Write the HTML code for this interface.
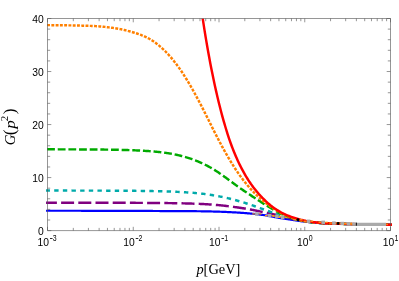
<!DOCTYPE html>
<html><head><meta charset="utf-8"><title>G(p^2)</title>
<style>html,body{margin:0;padding:0;background:#fff}svg{display:block;will-change:transform}</style></head>
<body>
<svg width="399" height="281" viewBox="0 0 399 281">
<rect width="399" height="281" fill="#fff"/>
<defs><clipPath id="c"><rect x="45.55" y="18.5" width="346.9" height="212.1"/></clipPath></defs>
<g clip-path="url(#c)" fill="none" stroke-width="2.45" stroke-linecap="butt" stroke-linejoin="round">
<path d="M46.05,210.76 L46.88,210.76 L47.70,210.76 L48.53,210.76 L49.35,210.76 L50.18,210.76 L51.00,210.76 L51.83,210.76 L52.65,210.76 L53.48,210.76 L54.31,210.76 L55.13,210.76 L55.96,210.76 L56.78,210.76 L57.61,210.76 L58.43,210.76 L59.26,210.76 L60.08,210.76 L60.91,210.76 L61.74,210.76 L62.56,210.76 L63.39,210.76 L64.21,210.76 L65.04,210.77 L65.86,210.77 L66.69,210.77 L67.51,210.77 L68.34,210.77 L69.17,210.77 L69.99,210.77 L70.82,210.77 L71.64,210.77 L72.47,210.77 L73.29,210.77 L74.12,210.77 L74.94,210.77 L75.77,210.77 L76.59,210.77 L77.42,210.77 L78.25,210.77 L79.07,210.77 L79.90,210.77 L80.72,210.77 L81.55,210.78 L82.37,210.78 L83.20,210.78 L84.02,210.78 L84.85,210.78 L85.68,210.78 L86.50,210.78 L87.33,210.78 L88.15,210.78 L88.98,210.78 L89.80,210.78 L90.63,210.78 L91.45,210.78 L92.28,210.79 L93.11,210.79 L93.93,210.79 L94.76,210.79 L95.58,210.79 L96.41,210.79 L97.23,210.79 L98.06,210.79 L98.88,210.79 L99.71,210.79 L100.54,210.80 L101.36,210.80 L102.19,210.80 L103.01,210.80 L103.84,210.80 L104.66,210.80 L105.49,210.80 L106.31,210.80 L107.14,210.81 L107.97,210.81 L108.79,210.81 L109.62,210.81 L110.44,210.81 L111.27,210.81 L112.09,210.81 L112.92,210.82 L113.74,210.82 L114.57,210.82 L115.40,210.82 L116.22,210.82 L117.05,210.82 L117.87,210.83 L118.70,210.83 L119.52,210.83 L120.35,210.83 L121.17,210.83 L122.00,210.84 L122.82,210.84 L123.65,210.84 L124.48,210.84 L125.30,210.85 L126.13,210.85 L126.95,210.85 L127.78,210.85 L128.60,210.86 L129.43,210.86 L130.25,210.86 L131.08,210.86 L131.91,210.87 L132.73,210.87 L133.56,210.87 L134.38,210.88 L135.21,210.88 L136.03,210.88 L136.86,210.89 L137.68,210.89 L138.51,210.89 L139.34,210.90 L140.16,210.90 L140.99,210.91 L141.81,210.91 L142.64,210.91 L143.46,210.92 L144.29,210.92 L145.11,210.93 L145.94,210.93 L146.77,210.93 L147.59,210.94 L148.42,210.94 L149.24,210.95 L150.07,210.95 L150.89,210.96 L151.72,210.96 L152.54,210.97 L153.37,210.98 L154.20,210.98 L155.02,210.99 L155.85,210.99 L156.67,211.00 L157.50,211.01 L158.32,211.01 L159.15,211.02 L159.97,211.03 L160.80,211.03 L161.63,211.04 L162.45,211.05 L163.28,211.05 L164.10,211.06 L164.93,211.07 L165.75,211.08 L166.58,211.09 L167.40,211.10 L168.23,211.10 L169.06,211.11 L169.88,211.12 L170.71,211.13 L171.53,211.14 L172.36,211.15 L173.18,211.15 L174.01,211.16 L174.83,211.16 L175.66,211.17 L176.48,211.17 L177.31,211.17 L178.14,211.17 L178.96,211.18 L179.79,211.18 L180.61,211.18 L181.44,211.18 L182.26,211.18 L183.09,211.18 L183.91,211.18 L184.74,211.18 L185.57,211.18 L186.39,211.18 L187.22,211.18 L188.04,211.19 L188.87,211.19 L189.69,211.19 L190.52,211.19 L191.34,211.19 L192.17,211.20 L193.00,211.20 L193.82,211.20 L194.65,211.21 L195.47,211.21 L196.30,211.22 L197.12,211.23 L197.95,211.24 L198.77,211.25 L199.60,211.26 L200.43,211.27 L201.25,211.28 L202.08,211.29 L202.90,211.31 L203.73,211.32 L204.55,211.33 L205.38,211.35 L206.20,211.36 L207.03,211.38 L207.86,211.40 L208.68,211.41 L209.51,211.43 L210.33,211.45 L211.16,211.47 L211.98,211.49 L212.81,211.51 L213.63,211.53 L214.46,211.55 L215.29,211.58 L216.11,211.60 L216.94,211.63 L217.76,211.65 L218.59,211.68 L219.41,211.71 L220.24,211.74 L221.06,211.77 L221.89,211.80 L222.71,211.83 L223.54,211.86 L224.37,211.89 L225.19,211.93 L226.02,211.97 L226.84,212.00 L227.67,212.04 L228.49,212.08 L229.32,212.12 L230.14,212.16 L230.97,212.20 L231.80,212.24 L232.62,212.28 L233.45,212.33 L234.27,212.37 L235.10,212.42 L235.92,212.47 L236.75,212.51 L237.57,212.56 L238.40,212.62 L239.23,212.67 L240.05,212.72 L240.88,212.78 L241.70,212.84 L242.53,212.90 L243.35,212.96 L244.18,213.02 L245.00,213.09 L245.83,213.15 L246.66,213.22 L247.48,213.29 L248.31,213.36 L249.13,213.44 L249.96,213.51 L250.78,213.59 L251.61,213.67 L252.43,213.75 L253.26,213.84 L254.09,213.93 L254.91,214.01 L255.74,214.11 L256.56,214.20 L257.39,214.29 L258.21,214.39 L259.04,214.49 L259.86,214.59 L260.69,214.69 L261.52,214.79 L262.34,214.90 L263.17,215.01 L263.99,215.12 L264.82,215.23 L265.64,215.35 L266.47,215.48 L267.29,215.62 L268.12,215.77 L268.94,215.92 L269.77,216.07 L270.60,216.23 L271.42,216.39 L272.25,216.56 L273.07,216.72 L273.90,216.89 L274.72,217.05 L275.55,217.22 L276.37,217.38 L277.20,217.54 L278.03,217.69 L278.85,217.85 L279.68,217.99 L280.50,218.13 L281.33,218.26 L282.15,218.39 L282.98,218.51 L283.80,218.63 L284.63,218.76 L285.46,218.88 L286.28,219.01 L287.11,219.13 L287.93,219.26 L288.76,219.38 L289.58,219.50 L290.41,219.63 L291.23,219.75 L292.06,219.88 L292.89,220.00 L293.71,220.12 L294.54,220.24 L295.36,220.37 L296.19,220.49 L297.01,220.60 L297.84,220.72 L298.66,220.84 L299.49,220.95 L300.32,221.07 L301.14,221.18 L301.97,221.29 L302.79,221.40 L303.62,221.51 L304.44,221.61 L305.27,221.71 L306.09,221.81 L306.92,221.91 L307.75,222.00 L308.57,222.10 L309.40,222.19 L310.22,222.27 L311.05,222.36 L311.87,222.44 L312.70,222.52 L313.52,222.59 L314.35,222.67 L315.18,222.74 L316.00,222.80 L316.83,222.87 L317.65,222.93 L318.48,222.99 L319.30,223.05 L320.13,223.10 L320.95,223.16 L321.78,223.21 L322.60,223.25 L323.43,223.30 L324.26,223.34 L325.08,223.39 L325.91,223.43 L326.73,223.46 L327.56,223.50 L328.38,223.53 L329.21,223.57 L330.03,223.60 L330.86,223.63 L331.69,223.66 L332.51,223.69 L333.34,223.71 L334.16,223.74 L334.99,223.77 L335.81,223.79 L336.64,223.81 L337.46,223.83 L338.29,223.86 L339.12,223.88 L339.94,223.90 L340.77,223.92 L341.59,223.94 L342.42,223.96 L343.24,223.97 L344.07,223.99 L344.89,224.01 L345.72,224.03 L346.55,224.04 L347.37,224.06 L348.20,224.08 L349.02,224.09 L349.85,224.11 L350.67,224.12 L351.50,224.14 L352.32,224.16 L353.15,224.17 L353.98,224.19 L354.80,224.20 L355.63,224.21 L356.45,224.23 L357.28,224.24 L358.10,224.26 L358.93,224.27 L359.75,224.29 L360.58,224.30 L361.41,224.32 L362.23,224.33 L363.06,224.34 L363.88,224.36 L364.71,224.37 L365.53,224.39 L366.36,224.40 L367.18,224.41 L368.01,224.43 L368.83,224.44 L369.66,224.46 L370.49,224.47 L371.31,224.48 L372.14,224.50 L372.96,224.51 L373.79,224.52 L374.61,224.54 L375.44,224.55 L376.26,224.57 L377.09,224.58 L377.92,224.59 L378.74,224.61 L379.57,224.62 L380.39,224.64 L381.22,224.65 L382.04,224.66 L382.87,224.68 L383.69,224.69 L384.52,224.71 L385.35,224.72 L386.17,224.73 L387.00,224.75 L387.82,224.76 L388.65,224.78 L389.47,224.79 L390.30,224.81 L391.12,224.82 L391.95,224.83" stroke="#0000ff" stroke-width="2.2"/>
<path d="M46.05,202.74 L46.88,202.74 L47.70,202.74 L48.53,202.74 L49.35,202.74 L50.18,202.74 L51.00,202.74 L51.83,202.74 L52.65,202.74 L53.48,202.74 L54.31,202.75 L55.13,202.75 L55.96,202.75 L56.78,202.75 L57.61,202.75 L58.43,202.75 L59.26,202.75 L60.08,202.75 L60.91,202.75 L61.74,202.75 L62.56,202.75 L63.39,202.75 L64.21,202.75 L65.04,202.75 L65.86,202.75 L66.69,202.75 L67.51,202.75 L68.34,202.75 L69.17,202.75 L69.99,202.75 L70.82,202.75 L71.64,202.75 L72.47,202.75 L73.29,202.75 L74.12,202.75 L74.94,202.75 L75.77,202.75 L76.59,202.75 L77.42,202.75 L78.25,202.75 L79.07,202.75 L79.90,202.75 L80.72,202.75 L81.55,202.75 L82.37,202.75 L83.20,202.75 L84.02,202.76 L84.85,202.76 L85.68,202.76 L86.50,202.76 L87.33,202.76 L88.15,202.76 L88.98,202.76 L89.80,202.76 L90.63,202.76 L91.45,202.76 L92.28,202.76 L93.11,202.76 L93.93,202.76 L94.76,202.76 L95.58,202.76 L96.41,202.76 L97.23,202.77 L98.06,202.77 L98.88,202.77 L99.71,202.77 L100.54,202.77 L101.36,202.77 L102.19,202.77 L103.01,202.77 L103.84,202.77 L104.66,202.77 L105.49,202.77 L106.31,202.78 L107.14,202.78 L107.97,202.78 L108.79,202.78 L109.62,202.78 L110.44,202.78 L111.27,202.78 L112.09,202.78 L112.92,202.79 L113.74,202.79 L114.57,202.79 L115.40,202.79 L116.22,202.79 L117.05,202.79 L117.87,202.79 L118.70,202.80 L119.52,202.80 L120.35,202.80 L121.17,202.80 L122.00,202.80 L122.82,202.81 L123.65,202.81 L124.48,202.81 L125.30,202.81 L126.13,202.81 L126.95,202.82 L127.78,202.82 L128.60,202.82 L129.43,202.82 L130.25,202.83 L131.08,202.83 L131.91,202.83 L132.73,202.83 L133.56,202.84 L134.38,202.84 L135.21,202.84 L136.03,202.85 L136.86,202.85 L137.68,202.85 L138.51,202.86 L139.34,202.86 L140.16,202.87 L140.99,202.87 L141.81,202.87 L142.64,202.88 L143.46,202.88 L144.29,202.89 L145.11,202.89 L145.94,202.90 L146.77,202.90 L147.59,202.91 L148.42,202.91 L149.24,202.92 L150.07,202.92 L150.89,202.93 L151.72,202.93 L152.54,202.94 L153.37,202.95 L154.20,202.95 L155.02,202.96 L155.85,202.96 L156.67,202.97 L157.50,202.98 L158.32,202.99 L159.15,202.99 L159.97,203.00 L160.80,203.01 L161.63,203.02 L162.45,203.03 L163.28,203.04 L164.10,203.05 L164.93,203.06 L165.75,203.07 L166.58,203.08 L167.40,203.09 L168.23,203.10 L169.06,203.11 L169.88,203.12 L170.71,203.13 L171.53,203.14 L172.36,203.16 L173.18,203.17 L174.01,203.18 L174.83,203.20 L175.66,203.21 L176.48,203.22 L177.31,203.24 L178.14,203.25 L178.96,203.27 L179.79,203.29 L180.61,203.30 L181.44,203.32 L182.26,203.34 L183.09,203.36 L183.91,203.38 L184.74,203.40 L185.57,203.42 L186.39,203.44 L187.22,203.46 L188.04,203.48 L188.87,203.50 L189.69,203.53 L190.52,203.55 L191.34,203.58 L192.17,203.60 L193.00,203.63 L193.82,203.66 L194.65,203.68 L195.47,203.71 L196.30,203.74 L197.12,203.77 L197.95,203.80 L198.77,203.84 L199.60,203.87 L200.43,203.91 L201.25,203.94 L202.08,203.98 L202.90,204.02 L203.73,204.06 L204.55,204.11 L205.38,204.16 L206.20,204.20 L207.03,204.26 L207.86,204.31 L208.68,204.36 L209.51,204.42 L210.33,204.48 L211.16,204.54 L211.98,204.60 L212.81,204.66 L213.63,204.73 L214.46,204.79 L215.29,204.86 L216.11,204.93 L216.94,205.00 L217.76,205.07 L218.59,205.15 L219.41,205.22 L220.24,205.30 L221.06,205.38 L221.89,205.46 L222.71,205.54 L223.54,205.63 L224.37,205.72 L225.19,205.82 L226.02,205.91 L226.84,206.01 L227.67,206.11 L228.49,206.21 L229.32,206.32 L230.14,206.42 L230.97,206.53 L231.80,206.64 L232.62,206.75 L233.45,206.87 L234.27,206.98 L235.10,207.09 L235.92,207.21 L236.75,207.33 L237.57,207.44 L238.40,207.56 L239.23,207.68 L240.05,207.80 L240.88,207.92 L241.70,208.05 L242.53,208.17 L243.35,208.30 L244.18,208.43 L245.00,208.56 L245.83,208.70 L246.66,208.84 L247.48,208.98 L248.31,209.13 L249.13,209.27 L249.96,209.42 L250.78,209.57 L251.61,209.73 L252.43,209.89 L253.26,210.05 L254.09,210.21 L254.91,210.37 L255.74,210.54 L256.56,210.71 L257.39,210.88 L258.21,211.06 L259.04,211.23 L259.86,211.40 L260.69,211.58 L261.52,211.75 L262.34,211.92 L263.17,212.08 L263.99,212.25 L264.82,212.42 L265.64,212.59 L266.47,212.76 L267.29,212.93 L268.12,213.10 L268.94,213.27 L269.77,213.45 L270.60,213.62 L271.42,213.80 L272.25,213.98 L273.07,214.16 L273.90,214.35 L274.72,214.53 L275.55,214.72 L276.37,214.91 L277.20,215.11 L278.03,215.31 L278.85,215.51 L279.68,215.72 L280.50,215.93 L281.33,216.14 L282.15,216.34 L282.98,216.55 L283.80,216.76 L284.63,216.96 L285.46,217.17 L286.28,217.37 L287.11,217.57 L287.93,217.78 L288.76,217.97 L289.58,218.17 L290.41,218.36 L291.23,218.56 L292.06,218.75 L292.89,218.93 L293.71,219.12 L294.54,219.30 L295.36,219.47 L296.19,219.65 L297.01,219.82 L297.84,219.99 L298.66,220.15 L299.49,220.31 L300.32,220.47 L301.14,220.62 L301.97,220.77 L302.79,220.91 L303.62,221.05 L304.44,221.19 L305.27,221.32 L306.09,221.44 L306.92,221.57 L307.75,221.68 L308.57,221.80 L309.40,221.91 L310.22,222.01 L311.05,222.11 L311.87,222.21 L312.70,222.30 L313.52,222.39 L314.35,222.47 L315.18,222.55 L316.00,222.63 L316.83,222.70 L317.65,222.77 L318.48,222.84 L319.30,222.90 L320.13,222.96 L320.95,223.02 L321.78,223.07 L322.60,223.12 L323.43,223.17 L324.26,223.22 L325.08,223.26 L325.91,223.31 L326.73,223.35 L327.56,223.39 L328.38,223.42 L329.21,223.46 L330.03,223.49 L330.86,223.53 L331.69,223.56 L332.51,223.59 L333.34,223.62 L334.16,223.64 L334.99,223.67 L335.81,223.70 L336.64,223.72 L337.46,223.74 L338.29,223.77 L339.12,223.79 L339.94,223.81 L340.77,223.83 L341.59,223.86 L342.42,223.88 L343.24,223.90 L344.07,223.92 L344.89,223.93 L345.72,223.95 L346.55,223.97 L347.37,223.99 L348.20,224.01 L349.02,224.03 L349.85,224.04 L350.67,224.06 L351.50,224.08 L352.32,224.10 L353.15,224.11 L353.98,224.13 L354.80,224.15 L355.63,224.16 L356.45,224.18 L357.28,224.19 L358.10,224.21 L358.93,224.23 L359.75,224.24 L360.58,224.26 L361.41,224.27 L362.23,224.29 L363.06,224.31 L363.88,224.32 L364.71,224.34 L365.53,224.35 L366.36,224.37 L367.18,224.38 L368.01,224.40 L368.83,224.42 L369.66,224.43 L370.49,224.45 L371.31,224.46 L372.14,224.48 L372.96,224.49 L373.79,224.51 L374.61,224.52 L375.44,224.54 L376.26,224.55 L377.09,224.57 L377.92,224.59 L378.74,224.60 L379.57,224.62 L380.39,224.63 L381.22,224.65 L382.04,224.66 L382.87,224.68 L383.69,224.69 L384.52,224.71 L385.35,224.72 L386.17,224.74 L387.00,224.76 L387.82,224.77 L388.65,224.79 L389.47,224.80 L390.30,224.82 L391.12,224.83 L391.95,224.85" stroke="#800080" stroke-dasharray="13 4.2" stroke-dashoffset="2.15"/>
<path d="M46.05,190.58 L46.88,190.58 L47.70,190.58 L48.53,190.58 L49.35,190.58 L50.18,190.58 L51.00,190.58 L51.83,190.58 L52.65,190.58 L53.48,190.58 L54.31,190.58 L55.13,190.58 L55.96,190.58 L56.78,190.58 L57.61,190.58 L58.43,190.58 L59.26,190.59 L60.08,190.59 L60.91,190.59 L61.74,190.59 L62.56,190.59 L63.39,190.59 L64.21,190.59 L65.04,190.59 L65.86,190.59 L66.69,190.59 L67.51,190.59 L68.34,190.59 L69.17,190.59 L69.99,190.59 L70.82,190.59 L71.64,190.59 L72.47,190.60 L73.29,190.60 L74.12,190.60 L74.94,190.60 L75.77,190.60 L76.59,190.60 L77.42,190.60 L78.25,190.60 L79.07,190.60 L79.90,190.60 L80.72,190.60 L81.55,190.61 L82.37,190.61 L83.20,190.61 L84.02,190.61 L84.85,190.61 L85.68,190.61 L86.50,190.61 L87.33,190.61 L88.15,190.62 L88.98,190.62 L89.80,190.62 L90.63,190.62 L91.45,190.62 L92.28,190.62 L93.11,190.62 L93.93,190.63 L94.76,190.63 L95.58,190.63 L96.41,190.63 L97.23,190.63 L98.06,190.64 L98.88,190.64 L99.71,190.64 L100.54,190.64 L101.36,190.64 L102.19,190.65 L103.01,190.65 L103.84,190.65 L104.66,190.65 L105.49,190.66 L106.31,190.66 L107.14,190.66 L107.97,190.67 L108.79,190.67 L109.62,190.67 L110.44,190.68 L111.27,190.68 L112.09,190.68 L112.92,190.69 L113.74,190.69 L114.57,190.69 L115.40,190.70 L116.22,190.70 L117.05,190.70 L117.87,190.71 L118.70,190.71 L119.52,190.72 L120.35,190.72 L121.17,190.73 L122.00,190.73 L122.82,190.74 L123.65,190.74 L124.48,190.75 L125.30,190.75 L126.13,190.76 L126.95,190.77 L127.78,190.77 L128.60,190.78 L129.43,190.78 L130.25,190.79 L131.08,190.80 L131.91,190.81 L132.73,190.81 L133.56,190.82 L134.38,190.83 L135.21,190.84 L136.03,190.85 L136.86,190.85 L137.68,190.86 L138.51,190.87 L139.34,190.88 L140.16,190.89 L140.99,190.90 L141.81,190.91 L142.64,190.92 L143.46,190.93 L144.29,190.95 L145.11,190.96 L145.94,190.97 L146.77,190.98 L147.59,190.99 L148.42,191.01 L149.24,191.02 L150.07,191.04 L150.89,191.05 L151.72,191.07 L152.54,191.08 L153.37,191.10 L154.20,191.11 L155.02,191.13 L155.85,191.15 L156.67,191.17 L157.50,191.19 L158.32,191.20 L159.15,191.22 L159.97,191.24 L160.80,191.27 L161.63,191.29 L162.45,191.31 L163.28,191.33 L164.10,191.36 L164.93,191.38 L165.75,191.41 L166.58,191.43 L167.40,191.46 L168.23,191.49 L169.06,191.52 L169.88,191.54 L170.71,191.57 L171.53,191.61 L172.36,191.64 L173.18,191.67 L174.01,191.70 L174.83,191.74 L175.66,191.78 L176.48,191.81 L177.31,191.85 L178.14,191.89 L178.96,191.93 L179.79,191.97 L180.61,192.02 L181.44,192.06 L182.26,192.11 L183.09,192.15 L183.91,192.20 L184.74,192.25 L185.57,192.30 L186.39,192.35 L187.22,192.41 L188.04,192.46 L188.87,192.52 L189.69,192.58 L190.52,192.64 L191.34,192.70 L192.17,192.77 L193.00,192.83 L193.82,192.90 L194.65,192.97 L195.47,193.04 L196.30,193.11 L197.12,193.19 L197.95,193.27 L198.77,193.35 L199.60,193.43 L200.43,193.51 L201.25,193.60 L202.08,193.69 L202.90,193.79 L203.73,193.89 L204.55,193.99 L205.38,194.10 L206.20,194.21 L207.03,194.32 L207.86,194.44 L208.68,194.56 L209.51,194.68 L210.33,194.81 L211.16,194.94 L211.98,195.07 L212.81,195.21 L213.63,195.35 L214.46,195.49 L215.29,195.64 L216.11,195.79 L216.94,195.94 L217.76,196.10 L218.59,196.25 L219.41,196.41 L220.24,196.58 L221.06,196.74 L221.89,196.91 L222.71,197.09 L223.54,197.26 L224.37,197.44 L225.19,197.62 L226.02,197.80 L226.84,197.98 L227.67,198.17 L228.49,198.37 L229.32,198.56 L230.14,198.76 L230.97,198.97 L231.80,199.18 L232.62,199.39 L233.45,199.60 L234.27,199.82 L235.10,200.04 L235.92,200.27 L236.75,200.50 L237.57,200.73 L238.40,200.96 L239.23,201.20 L240.05,201.44 L240.88,201.69 L241.70,201.93 L242.53,202.18 L243.35,202.44 L244.18,202.69 L245.00,202.95 L245.83,203.21 L246.66,203.48 L247.48,203.75 L248.31,204.02 L249.13,204.29 L249.96,204.56 L250.78,204.84 L251.61,205.12 L252.43,205.40 L253.26,205.69 L254.09,205.98 L254.91,206.27 L255.74,206.56 L256.56,206.85 L257.39,207.14 L258.21,207.44 L259.04,207.74 L259.86,208.04 L260.69,208.34 L261.52,208.64 L262.34,208.94 L263.17,209.24 L263.99,209.53 L264.82,209.83 L265.64,210.12 L266.47,210.41 L267.29,210.70 L268.12,210.98 L268.94,211.26 L269.77,211.55 L270.60,211.83 L271.42,212.10 L272.25,212.38 L273.07,212.65 L273.90,212.93 L274.72,213.20 L275.55,213.47 L276.37,213.74 L277.20,214.00 L278.03,214.27 L278.85,214.53 L279.68,214.79 L280.50,215.05 L281.33,215.32 L282.15,215.57 L282.98,215.83 L283.80,216.09 L284.63,216.35 L285.46,216.60 L286.28,216.85 L287.11,217.10 L287.93,217.35 L288.76,217.59 L289.58,217.82 L290.41,218.05 L291.23,218.28 L292.06,218.50 L292.89,218.72 L293.71,218.93 L294.54,219.13 L295.36,219.33 L296.19,219.53 L297.01,219.72 L297.84,219.91 L298.66,220.09 L299.49,220.26 L300.32,220.43 L301.14,220.60 L301.97,220.75 L302.79,220.91 L303.62,221.06 L304.44,221.20 L305.27,221.33 L306.09,221.47 L306.92,221.59 L307.75,221.71 L308.57,221.83 L309.40,221.94 L310.22,222.05 L311.05,222.15 L311.87,222.24 L312.70,222.34 L313.52,222.42 L314.35,222.51 L315.18,222.59 L316.00,222.66 L316.83,222.73 L317.65,222.80 L318.48,222.87 L319.30,222.93 L320.13,222.99 L320.95,223.04 L321.78,223.10 L322.60,223.15 L323.43,223.19 L324.26,223.24 L325.08,223.28 L325.91,223.32 L326.73,223.36 L327.56,223.40 L328.38,223.44 L329.21,223.47 L330.03,223.51 L330.86,223.54 L331.69,223.57 L332.51,223.60 L333.34,223.62 L334.16,223.65 L334.99,223.68 L335.81,223.70 L336.64,223.73 L337.46,223.75 L338.29,223.77 L339.12,223.80 L339.94,223.82 L340.77,223.84 L341.59,223.86 L342.42,223.88 L343.24,223.90 L344.07,223.92 L344.89,223.94 L345.72,223.96 L346.55,223.98 L347.37,224.00 L348.20,224.02 L349.02,224.03 L349.85,224.05 L350.67,224.07 L351.50,224.09 L352.32,224.10 L353.15,224.12 L353.98,224.14 L354.80,224.15 L355.63,224.17 L356.45,224.19 L357.28,224.20 L358.10,224.22 L358.93,224.24 L359.75,224.25 L360.58,224.27 L361.41,224.29 L362.23,224.30 L363.06,224.32 L363.88,224.33 L364.71,224.35 L365.53,224.37 L366.36,224.38 L367.18,224.40 L368.01,224.41 L368.83,224.43 L369.66,224.45 L370.49,224.46 L371.31,224.48 L372.14,224.49 L372.96,224.51 L373.79,224.52 L374.61,224.54 L375.44,224.56 L376.26,224.57 L377.09,224.59 L377.92,224.60 L378.74,224.62 L379.57,224.63 L380.39,224.65 L381.22,224.67 L382.04,224.68 L382.87,224.70 L383.69,224.71 L384.52,224.73 L385.35,224.74 L386.17,224.76 L387.00,224.78 L387.82,224.79 L388.65,224.81 L389.47,224.82 L390.30,224.84 L391.12,224.85 L391.95,224.87" stroke="#00aaaa" stroke-dasharray="4.4 4.25" stroke-dashoffset="0.5"/>
<path d="M46.05,149.33 L46.88,149.33 L47.70,149.33 L48.53,149.33 L49.35,149.33 L50.18,149.33 L51.00,149.33 L51.83,149.34 L52.65,149.34 L53.48,149.34 L54.31,149.34 L55.13,149.34 L55.96,149.34 L56.78,149.34 L57.61,149.34 L58.43,149.35 L59.26,149.35 L60.08,149.35 L60.91,149.35 L61.74,149.35 L62.56,149.35 L63.39,149.36 L64.21,149.36 L65.04,149.36 L65.86,149.36 L66.69,149.36 L67.51,149.37 L68.34,149.37 L69.17,149.37 L69.99,149.37 L70.82,149.38 L71.64,149.38 L72.47,149.38 L73.29,149.38 L74.12,149.39 L74.94,149.39 L75.77,149.39 L76.59,149.40 L77.42,149.40 L78.25,149.40 L79.07,149.41 L79.90,149.41 L80.72,149.41 L81.55,149.42 L82.37,149.42 L83.20,149.43 L84.02,149.43 L84.85,149.44 L85.68,149.44 L86.50,149.45 L87.33,149.45 L88.15,149.46 L88.98,149.46 L89.80,149.47 L90.63,149.47 L91.45,149.48 L92.28,149.48 L93.11,149.49 L93.93,149.50 L94.76,149.50 L95.58,149.51 L96.41,149.52 L97.23,149.52 L98.06,149.53 L98.88,149.54 L99.71,149.55 L100.54,149.56 L101.36,149.57 L102.19,149.57 L103.01,149.58 L103.84,149.59 L104.66,149.60 L105.49,149.61 L106.31,149.62 L107.14,149.64 L107.97,149.65 L108.79,149.66 L109.62,149.67 L110.44,149.68 L111.27,149.70 L112.09,149.71 L112.92,149.72 L113.74,149.74 L114.57,149.75 L115.40,149.77 L116.22,149.79 L117.05,149.80 L117.87,149.82 L118.70,149.84 L119.52,149.86 L120.35,149.87 L121.17,149.89 L122.00,149.91 L122.82,149.93 L123.65,149.96 L124.48,149.98 L125.30,150.00 L126.13,150.03 L126.95,150.05 L127.78,150.08 L128.60,150.10 L129.43,150.13 L130.25,150.16 L131.08,150.19 L131.91,150.22 L132.73,150.25 L133.56,150.28 L134.38,150.31 L135.21,150.35 L136.03,150.38 L136.86,150.42 L137.68,150.46 L138.51,150.49 L139.34,150.53 L140.16,150.58 L140.99,150.62 L141.81,150.66 L142.64,150.71 L143.46,150.76 L144.29,150.81 L145.11,150.86 L145.94,150.91 L146.77,150.96 L147.59,151.02 L148.42,151.08 L149.24,151.13 L150.07,151.20 L150.89,151.26 L151.72,151.32 L152.54,151.39 L153.37,151.46 L154.20,151.53 L155.02,151.61 L155.85,151.68 L156.67,151.76 L157.50,151.85 L158.32,151.93 L159.15,152.02 L159.97,152.11 L160.80,152.20 L161.63,152.30 L162.45,152.40 L163.28,152.50 L164.10,152.61 L164.93,152.73 L165.75,152.84 L166.58,152.96 L167.40,153.09 L168.23,153.22 L169.06,153.36 L169.88,153.50 L170.71,153.64 L171.53,153.79 L172.36,153.94 L173.18,154.10 L174.01,154.26 L174.83,154.43 L175.66,154.61 L176.48,154.78 L177.31,154.97 L178.14,155.15 L178.96,155.35 L179.79,155.55 L180.61,155.75 L181.44,155.96 L182.26,156.17 L183.09,156.39 L183.91,156.62 L184.74,156.85 L185.57,157.09 L186.39,157.33 L187.22,157.58 L188.04,157.84 L188.87,158.10 L189.69,158.37 L190.52,158.64 L191.34,158.92 L192.17,159.21 L193.00,159.51 L193.82,159.81 L194.65,160.12 L195.47,160.44 L196.30,160.77 L197.12,161.10 L197.95,161.44 L198.77,161.79 L199.60,162.15 L200.43,162.51 L201.25,162.88 L202.08,163.26 L202.90,163.65 L203.73,164.04 L204.55,164.44 L205.38,164.85 L206.20,165.27 L207.03,165.69 L207.86,166.12 L208.68,166.57 L209.51,167.02 L210.33,167.48 L211.16,167.94 L211.98,168.42 L212.81,168.90 L213.63,169.40 L214.46,169.90 L215.29,170.41 L216.11,170.94 L216.94,171.47 L217.76,172.02 L218.59,172.58 L219.41,173.15 L220.24,173.72 L221.06,174.31 L221.89,174.89 L222.71,175.49 L223.54,176.08 L224.37,176.68 L225.19,177.28 L226.02,177.87 L226.84,178.47 L227.67,179.06 L228.49,179.65 L229.32,180.25 L230.14,180.86 L230.97,181.46 L231.80,182.07 L232.62,182.68 L233.45,183.29 L234.27,183.90 L235.10,184.52 L235.92,185.13 L236.75,185.75 L237.57,186.37 L238.40,186.97 L239.23,187.56 L240.05,188.14 L240.88,188.71 L241.70,189.27 L242.53,189.82 L243.35,190.37 L244.18,190.92 L245.00,191.46 L245.83,192.00 L246.66,192.55 L247.48,193.09 L248.31,193.64 L249.13,194.20 L249.96,194.76 L250.78,195.32 L251.61,195.88 L252.43,196.43 L253.26,196.98 L254.09,197.52 L254.91,198.06 L255.74,198.60 L256.56,199.14 L257.39,199.67 L258.21,200.21 L259.04,200.74 L259.86,201.28 L260.69,201.82 L261.52,202.35 L262.34,202.90 L263.17,203.43 L263.99,203.96 L264.82,204.48 L265.64,205.00 L266.47,205.51 L267.29,206.01 L268.12,206.50 L268.94,206.99 L269.77,207.47 L270.60,207.96 L271.42,208.44 L272.25,208.92 L273.07,209.40 L273.90,209.88 L274.72,210.35 L275.55,210.82 L276.37,211.28 L277.20,211.74 L278.03,212.18 L278.85,212.62 L279.68,213.05 L280.50,213.46 L281.33,213.87 L282.15,214.26 L282.98,214.63 L283.80,214.99 L284.63,215.34 L285.46,215.67 L286.28,215.99 L287.11,216.30 L287.93,216.60 L288.76,216.90 L289.58,217.19 L290.41,217.47 L291.23,217.74 L292.06,218.00 L292.89,218.26 L293.71,218.51 L294.54,218.75 L295.36,218.99 L296.19,219.21 L297.01,219.43 L297.84,219.64 L298.66,219.84 L299.49,220.04 L300.32,220.23 L301.14,220.41 L301.97,220.59 L302.79,220.76 L303.62,220.92 L304.44,221.07 L305.27,221.22 L306.09,221.36 L306.92,221.50 L307.75,221.63 L308.57,221.75 L309.40,221.87 L310.22,221.98 L311.05,222.08 L311.87,222.19 L312.70,222.28 L313.52,222.37 L314.35,222.46 L315.18,222.54 L316.00,222.62 L316.83,222.70 L317.65,222.77 L318.48,222.83 L319.30,222.90 L320.13,222.96 L320.95,223.01 L321.78,223.07 L322.60,223.12 L323.43,223.17 L324.26,223.21 L325.08,223.26 L325.91,223.30 L326.73,223.34 L327.56,223.38 L328.38,223.42 L329.21,223.45 L330.03,223.48 L330.86,223.52 L331.69,223.55 L332.51,223.58 L333.34,223.61 L334.16,223.63 L334.99,223.66 L335.81,223.69 L336.64,223.71 L337.46,223.74 L338.29,223.76 L339.12,223.78 L339.94,223.80 L340.77,223.83 L341.59,223.85 L342.42,223.87 L343.24,223.89 L344.07,223.91 L344.89,223.93 L345.72,223.95 L346.55,223.97 L347.37,223.99 L348.20,224.01 L349.02,224.02 L349.85,224.04 L350.67,224.06 L351.50,224.08 L352.32,224.10 L353.15,224.11 L353.98,224.13 L354.80,224.15 L355.63,224.16 L356.45,224.18 L357.28,224.20 L358.10,224.22 L358.93,224.23 L359.75,224.25 L360.58,224.27 L361.41,224.28 L362.23,224.30 L363.06,224.31 L363.88,224.33 L364.71,224.35 L365.53,224.36 L366.36,224.38 L367.18,224.40 L368.01,224.41 L368.83,224.43 L369.66,224.44 L370.49,224.46 L371.31,224.48 L372.14,224.49 L372.96,224.51 L373.79,224.53 L374.61,224.54 L375.44,224.56 L376.26,224.57 L377.09,224.59 L377.92,224.61 L378.74,224.62 L379.57,224.64 L380.39,224.65 L381.22,224.67 L382.04,224.69 L382.87,224.70 L383.69,224.72 L384.52,224.73 L385.35,224.75 L386.17,224.76 L387.00,224.78 L387.82,224.80 L388.65,224.81 L389.47,224.83 L390.30,224.84 L391.12,224.86 L391.95,224.88" stroke="#00aa00" stroke-dasharray="7.8 2.85" stroke-dashoffset="9.6"/>
<path d="M46.05,25.11 L46.88,25.12 L47.70,25.13 L48.53,25.14 L49.35,25.14 L50.18,25.15 L51.00,25.16 L51.83,25.17 L52.65,25.17 L53.48,25.18 L54.31,25.19 L55.13,25.19 L55.96,25.20 L56.78,25.21 L57.61,25.22 L58.43,25.23 L59.26,25.23 L60.08,25.24 L60.91,25.25 L61.74,25.26 L62.56,25.27 L63.39,25.28 L64.21,25.29 L65.04,25.30 L65.86,25.31 L66.69,25.32 L67.51,25.33 L68.34,25.35 L69.17,25.36 L69.99,25.37 L70.82,25.39 L71.64,25.40 L72.47,25.42 L73.29,25.43 L74.12,25.45 L74.94,25.47 L75.77,25.48 L76.59,25.50 L77.42,25.52 L78.25,25.54 L79.07,25.56 L79.90,25.59 L80.72,25.61 L81.55,25.63 L82.37,25.66 L83.20,25.68 L84.02,25.70 L84.85,25.72 L85.68,25.74 L86.50,25.77 L87.33,25.79 L88.15,25.82 L88.98,25.84 L89.80,25.87 L90.63,25.90 L91.45,25.94 L92.28,25.97 L93.11,26.01 L93.93,26.05 L94.76,26.09 L95.58,26.14 L96.41,26.19 L97.23,26.24 L98.06,26.30 L98.88,26.36 L99.71,26.43 L100.54,26.50 L101.36,26.57 L102.19,26.65 L103.01,26.73 L103.84,26.81 L104.66,26.89 L105.49,26.98 L106.31,27.07 L107.14,27.16 L107.97,27.26 L108.79,27.36 L109.62,27.46 L110.44,27.57 L111.27,27.68 L112.09,27.79 L112.92,27.91 L113.74,28.03 L114.57,28.15 L115.40,28.28 L116.22,28.42 L117.05,28.56 L117.87,28.70 L118.70,28.85 L119.52,29.00 L120.35,29.16 L121.17,29.32 L122.00,29.49 L122.82,29.67 L123.65,29.85 L124.48,30.04 L125.30,30.23 L126.13,30.43 L126.95,30.63 L127.78,30.85 L128.60,31.07 L129.43,31.29 L130.25,31.53 L131.08,31.76 L131.91,32.00 L132.73,32.24 L133.56,32.49 L134.38,32.73 L135.21,32.99 L136.03,33.24 L136.86,33.51 L137.68,33.78 L138.51,34.06 L139.34,34.35 L140.16,34.64 L140.99,34.95 L141.81,35.27 L142.64,35.60 L143.46,35.94 L144.29,36.30 L145.11,36.67 L145.94,37.05 L146.77,37.45 L147.59,37.87 L148.42,38.30 L149.24,38.75 L150.07,39.22 L150.89,39.72 L151.72,40.23 L152.54,40.76 L153.37,41.31 L154.20,41.88 L155.02,42.46 L155.85,43.07 L156.67,43.69 L157.50,44.33 L158.32,44.98 L159.15,45.66 L159.97,46.35 L160.80,47.07 L161.63,47.80 L162.45,48.55 L163.28,49.33 L164.10,50.12 L164.93,50.93 L165.75,51.76 L166.58,52.61 L167.40,53.48 L168.23,54.37 L169.06,55.28 L169.88,56.20 L170.71,57.15 L171.53,58.12 L172.36,59.11 L173.18,60.12 L174.01,61.15 L174.83,62.20 L175.66,63.27 L176.48,64.36 L177.31,65.46 L178.14,66.59 L178.96,67.74 L179.79,68.91 L180.61,70.10 L181.44,71.31 L182.26,72.54 L183.09,73.79 L183.91,75.06 L184.74,76.35 L185.57,77.66 L186.39,78.99 L187.22,80.34 L188.04,81.70 L188.87,83.09 L189.69,84.49 L190.52,85.91 L191.34,87.35 L192.17,88.80 L193.00,90.27 L193.82,91.75 L194.65,93.25 L195.47,94.76 L196.30,96.28 L197.12,97.82 L197.95,99.37 L198.77,100.93 L199.60,102.50 L200.43,104.08 L201.25,105.67 L202.08,107.27 L202.90,108.87 L203.73,110.49 L204.55,112.11 L205.38,113.74 L206.20,115.38 L207.03,117.02 L207.86,118.67 L208.68,120.32 L209.51,121.98 L210.33,123.63 L211.16,125.28 L211.98,126.93 L212.81,128.58 L213.63,130.22 L214.46,131.85 L215.29,133.48 L216.11,135.10 L216.94,136.71 L217.76,138.30 L218.59,139.89 L219.41,141.46 L220.24,143.02 L221.06,144.56 L221.89,146.09 L222.71,147.61 L223.54,149.11 L224.37,150.60 L225.19,152.07 L226.02,153.53 L226.84,154.97 L227.67,156.40 L228.49,157.81 L229.32,159.20 L230.14,160.58 L230.97,161.94 L231.80,163.28 L232.62,164.61 L233.45,165.91 L234.27,167.21 L235.10,168.48 L235.92,169.73 L236.75,170.97 L237.57,172.19 L238.40,173.39 L239.23,174.58 L240.05,175.74 L240.88,176.88 L241.70,178.01 L242.53,179.11 L243.35,180.19 L244.18,181.26 L245.00,182.30 L245.83,183.33 L246.66,184.34 L247.48,185.33 L248.31,186.30 L249.13,187.25 L249.96,188.18 L250.78,189.10 L251.61,190.00 L252.43,190.88 L253.26,191.75 L254.09,192.60 L254.91,193.44 L255.74,194.26 L256.56,195.06 L257.39,195.85 L258.21,196.62 L259.04,197.38 L259.86,198.13 L260.69,198.86 L261.52,199.58 L262.34,200.28 L263.17,200.97 L263.99,201.64 L264.82,202.30 L265.64,202.94 L266.47,203.57 L267.29,204.19 L268.12,204.79 L268.94,205.38 L269.77,205.96 L270.60,206.54 L271.42,207.10 L272.25,207.66 L273.07,208.21 L273.90,208.76 L274.72,209.29 L275.55,209.81 L276.37,210.32 L277.20,210.82 L278.03,211.32 L278.85,211.80 L279.68,212.26 L280.50,212.72 L281.33,213.17 L282.15,213.60 L282.98,214.02 L283.80,214.43 L284.63,214.82 L285.46,215.20 L286.28,215.57 L287.11,215.93 L287.93,216.29 L288.76,216.63 L289.58,216.97 L290.41,217.30 L291.23,217.61 L292.06,217.92 L292.89,218.22 L293.71,218.50 L294.54,218.78 L295.36,219.04 L296.19,219.29 L297.01,219.53 L297.84,219.76 L298.66,219.97 L299.49,220.18 L300.32,220.36 L301.14,220.54 L301.97,220.72 L302.79,220.88 L303.62,221.04 L304.44,221.19 L305.27,221.34 L306.09,221.48 L306.92,221.61 L307.75,221.73 L308.57,221.85 L309.40,221.96 L310.22,222.07 L311.05,222.18 L311.87,222.27 L312.70,222.36 L313.52,222.45 L314.35,222.54 L315.18,222.61 L316.00,222.69 L316.83,222.76 L317.65,222.83 L318.48,222.89 L319.30,222.95 L320.13,223.01 L320.95,223.06 L321.78,223.11 L322.60,223.16 L323.43,223.21 L324.26,223.25 L325.08,223.30 L325.91,223.34 L326.73,223.38 L327.56,223.41 L328.38,223.45 L329.21,223.48 L330.03,223.51 L330.86,223.54 L331.69,223.57 L332.51,223.60 L333.34,223.63 L334.16,223.66 L334.99,223.68 L335.81,223.71 L336.64,223.73 L337.46,223.76 L338.29,223.78 L339.12,223.80 L339.94,223.82 L340.77,223.85 L341.59,223.87 L342.42,223.89 L343.24,223.91 L344.07,223.93 L344.89,223.95 L345.72,223.97 L346.55,223.99 L347.37,224.00 L348.20,224.02 L349.02,224.04 L349.85,224.06 L350.67,224.08 L351.50,224.09 L352.32,224.11 L353.15,224.13 L353.98,224.15 L354.80,224.16 L355.63,224.18 L356.45,224.20 L357.28,224.22 L358.10,224.23 L358.93,224.25 L359.75,224.27 L360.58,224.28 L361.41,224.30 L362.23,224.32 L363.06,224.33 L363.88,224.35 L364.71,224.36 L365.53,224.38 L366.36,224.40 L367.18,224.41 L368.01,224.43 L368.83,224.45 L369.66,224.46 L370.49,224.48 L371.31,224.49 L372.14,224.51 L372.96,224.53 L373.79,224.54 L374.61,224.56 L375.44,224.58 L376.26,224.59 L377.09,224.61 L377.92,224.62 L378.74,224.64 L379.57,224.66 L380.39,224.67 L381.22,224.69 L382.04,224.70 L382.87,224.72 L383.69,224.74 L384.52,224.75 L385.35,224.77 L386.17,224.78 L387.00,224.80 L387.82,224.82 L388.65,224.83 L389.47,224.85 L390.30,224.86 L391.12,224.88 L391.95,224.89" stroke="#ff8000" stroke-dasharray="2.9 1.37" stroke-dashoffset="3.22"/>
<path d="M196.30,-28.50 L197.12,-21.91 L197.95,-15.49 L198.77,-9.23 L199.60,-3.13 L200.43,2.82 L201.25,8.61 L202.08,14.26 L202.90,19.76 L203.73,25.12 L204.55,30.35 L205.38,35.44 L206.20,40.41 L207.03,45.25 L207.86,49.96 L208.68,54.55 L209.51,59.03 L210.33,63.40 L211.16,67.65 L211.98,71.79 L212.81,75.84 L213.63,79.79 L214.46,83.66 L215.29,87.43 L216.11,91.12 L216.94,94.72 L217.76,98.24 L218.59,101.67 L219.41,105.02 L220.24,108.28 L221.06,111.47 L221.89,114.58 L222.71,117.60 L223.54,120.55 L224.37,123.42 L225.19,126.23 L226.02,128.98 L226.84,131.67 L227.67,134.28 L228.49,136.83 L229.32,139.30 L230.14,141.69 L230.97,143.99 L231.80,146.22 L232.62,148.39 L233.45,150.49 L234.27,152.54 L235.10,154.53 L235.92,156.46 L236.75,158.34 L237.57,160.17 L238.40,161.95 L239.23,163.68 L240.05,165.36 L240.88,167.01 L241.70,168.61 L242.53,170.17 L243.35,171.69 L244.18,173.17 L245.00,174.62 L245.83,176.03 L246.66,177.41 L247.48,178.74 L248.31,180.05 L249.13,181.31 L249.96,182.54 L250.78,183.75 L251.61,184.91 L252.43,186.05 L253.26,187.16 L254.09,188.25 L254.91,189.30 L255.74,190.33 L256.56,191.34 L257.39,192.32 L258.21,193.27 L259.04,194.21 L259.86,195.12 L260.69,196.02 L261.52,196.89 L262.34,197.75 L263.17,198.59 L263.99,199.42 L264.82,200.23 L265.64,201.02 L266.47,201.80 L267.29,202.56 L268.12,203.30 L268.94,204.02 L269.77,204.72 L270.60,205.41 L271.42,206.08 L272.25,206.72 L273.07,207.35 L273.90,207.95 L274.72,208.53 L275.55,209.09 L276.37,209.63 L277.20,210.16 L278.03,210.66 L278.85,211.15 L279.68,211.63 L280.50,212.09 L281.33,212.53 L282.15,212.96 L282.98,213.38 L283.80,213.78 L284.63,214.17 L285.46,214.54 L286.28,214.91 L287.11,215.26 L287.93,215.60 L288.76,215.93 L289.58,216.25 L290.41,216.56 L291.23,216.86 L292.06,217.15 L292.89,217.43 L293.71,217.70 L294.54,217.97 L295.36,218.23 L296.19,218.48 L297.01,218.72 L297.84,218.96 L298.66,219.19 L299.49,219.41 L300.32,219.63 L301.14,219.84 L301.97,220.04 L302.79,220.24 L303.62,220.42 L304.44,220.60 L305.27,220.77 L306.09,220.94 L306.92,221.09 L307.75,221.24 L308.57,221.39 L309.40,221.52 L310.22,221.65 L311.05,221.78 L311.87,221.89 L312.70,222.00 L313.52,222.11 L314.35,222.21 L315.18,222.31 L316.00,222.40 L316.83,222.48 L317.65,222.57 L318.48,222.64 L319.30,222.72 L320.13,222.79 L320.95,222.85 L321.78,222.91 L322.60,222.97 L323.43,223.03 L324.26,223.08 L325.08,223.13 L325.91,223.18 L326.73,223.23 L327.56,223.27 L328.38,223.31 L329.21,223.35 L330.03,223.39 L330.86,223.43 L331.69,223.46 L332.51,223.49 L333.34,223.52 L334.16,223.56 L334.99,223.58 L335.81,223.61 L336.64,223.64 L337.46,223.67 L338.29,223.69 L339.12,223.72 L339.94,223.74 L340.77,223.76 L341.59,223.79 L342.42,223.81 L343.24,223.83 L344.07,223.85 L344.89,223.87 L345.72,223.89 L346.55,223.91 L347.37,223.93 L348.20,223.95 L349.02,223.97 L349.85,223.99 L350.67,224.01 L351.50,224.03 L352.32,224.05 L353.15,224.07 L353.98,224.08 L354.80,224.10 L355.63,224.12 L356.45,224.14 L357.28,224.15 L358.10,224.17 L358.93,224.19 L359.75,224.21 L360.58,224.22 L361.41,224.24 L362.23,224.26 L363.06,224.27 L363.88,224.29 L364.71,224.31 L365.53,224.32 L366.36,224.34 L367.18,224.36 L368.01,224.37 L368.83,224.39 L369.66,224.40 L370.49,224.42 L371.31,224.44 L372.14,224.45 L372.96,224.47 L373.79,224.49 L374.61,224.50 L375.44,224.52 L376.26,224.53 L377.09,224.55 L377.92,224.57 L378.74,224.58 L379.57,224.60 L380.39,224.61 L381.22,224.63 L382.04,224.65 L382.87,224.66 L383.69,224.68 L384.52,224.69 L385.35,224.71 L386.17,224.73 L387.00,224.74 L387.82,224.76 L388.65,224.77 L389.47,224.79 L390.30,224.81 L391.12,224.82 L391.95,224.84" stroke="#ff0000"/>
</g>
<g fill="#ff9a10">
<rect x="252.30" y="213.30" width="2.6" height="1.2"/><rect x="258.90" y="213.30" width="2.6" height="1.2"/>
<rect x="265.00" y="215.00" width="2.6" height="1.2"/><rect x="271.60" y="215.00" width="2.6" height="1.2"/>
<rect x="272.30" y="215.70" width="2.6" height="1.2"/><rect x="278.90" y="215.70" width="2.6" height="1.2"/>
<rect x="278.00" y="216.80" width="2.6" height="1.2"/><rect x="284.60" y="216.80" width="2.6" height="1.2"/>
<rect x="303.90" y="220.65" width="2.6" height="1.2"/><rect x="310.50" y="220.65" width="2.6" height="1.2"/>
<rect x="318.60" y="221.70" width="2.6" height="1.2"/><rect x="325.20" y="221.70" width="2.6" height="1.2"/>
<rect x="329.30" y="222.50" width="2.6" height="1.2"/><rect x="335.90" y="222.50" width="2.6" height="1.2"/>
<rect x="337.60" y="222.90" width="2.6" height="1.2"/><rect x="344.20" y="222.90" width="2.6" height="1.2"/>
<rect x="343.80" y="223.20" width="2.6" height="1.2"/><rect x="350.40" y="223.20" width="2.6" height="1.2"/>
<rect x="349.40" y="223.40" width="2.6" height="1.2"/><rect x="356.00" y="223.40" width="2.6" height="1.2"/>
<rect x="293.30" y="219.15" width="2.6" height="1.2"/><rect x="299.90" y="219.15" width="2.6" height="1.2"/>
<rect x="333.50" y="222.90" width="2.6" height="1.2"/><rect x="340.10" y="222.90" width="2.6" height="1.2"/>
</g>
<rect x="386.2" y="223.9" width="1.7" height="1.2" fill="#ff9a10"/>
<g fill="#aaaaaa">
<rect x="355.5" y="222.75" width="30.6" height="3.25"/>
<rect x="255.10" y="212.20" width="3.6" height="3.4"/>
<rect x="267.80" y="213.90" width="3.6" height="3.4"/>
<rect x="275.10" y="214.60" width="3.6" height="3.4"/>
<rect x="280.80" y="215.70" width="3.6" height="3.4"/>
<rect x="306.70" y="219.55" width="3.6" height="3.4"/>
<rect x="321.40" y="220.60" width="3.6" height="3.4"/>
<rect x="332.10" y="221.40" width="3.6" height="3.4"/>
<rect x="340.40" y="221.80" width="3.6" height="3.4"/>
<rect x="346.60" y="222.10" width="3.6" height="3.4"/>
<rect x="352.20" y="222.30" width="3.6" height="3.4"/>
</g>
<g fill="#000">
<circle cx="297.9" cy="219.75" r="1.4"/>
<circle cx="338.1" cy="223.5" r="1.4"/>
<rect x="355.9" y="222.6" width="0.9" height="3.1"/>
</g>
<path d="M47.5,18.5H390.5V230.6H47.5ZM47.50,230.6v-3.8M47.50,18.5v3.8M73.31,230.6v-2.7M73.31,18.5v2.7M88.41,230.6v-2.7M88.41,18.5v2.7M99.13,230.6v-2.7M99.13,18.5v2.7M107.44,230.6v-2.7M107.44,18.5v2.7M114.23,230.6v-2.7M114.23,18.5v2.7M119.97,230.6v-2.7M119.97,18.5v2.7M124.94,230.6v-2.7M124.94,18.5v2.7M129.33,230.6v-2.7M129.33,18.5v2.7M133.25,230.6v-3.8M133.25,18.5v3.8M159.06,230.6v-2.7M159.06,18.5v2.7M174.16,230.6v-2.7M174.16,18.5v2.7M184.88,230.6v-2.7M184.88,18.5v2.7M193.19,230.6v-2.7M193.19,18.5v2.7M199.98,230.6v-2.7M199.98,18.5v2.7M205.72,230.6v-2.7M205.72,18.5v2.7M210.69,230.6v-2.7M210.69,18.5v2.7M215.08,230.6v-2.7M215.08,18.5v2.7M219.00,230.6v-3.8M219.00,18.5v3.8M244.81,230.6v-2.7M244.81,18.5v2.7M259.91,230.6v-2.7M259.91,18.5v2.7M270.63,230.6v-2.7M270.63,18.5v2.7M278.94,230.6v-2.7M278.94,18.5v2.7M285.73,230.6v-2.7M285.73,18.5v2.7M291.47,230.6v-2.7M291.47,18.5v2.7M296.44,230.6v-2.7M296.44,18.5v2.7M300.83,230.6v-2.7M300.83,18.5v2.7M304.75,230.6v-3.8M304.75,18.5v3.8M330.56,230.6v-2.7M330.56,18.5v2.7M345.66,230.6v-2.7M345.66,18.5v2.7M356.38,230.6v-2.7M356.38,18.5v2.7M364.69,230.6v-2.7M364.69,18.5v2.7M371.48,230.6v-2.7M371.48,18.5v2.7M377.22,230.6v-2.7M377.22,18.5v2.7M382.19,230.6v-2.7M382.19,18.5v2.7M386.58,230.6v-2.7M386.58,18.5v2.7M390.50,230.6v-3.8M390.50,18.5v3.8M47.5,230.60h3.8M390.5,230.60h-3.8M47.5,220.00h2.7M390.5,220.00h-2.7M47.5,209.39h2.7M390.5,209.39h-2.7M47.5,198.78h2.7M390.5,198.78h-2.7M47.5,188.18h2.7M390.5,188.18h-2.7M47.5,177.57h3.8M390.5,177.57h-3.8M47.5,166.97h2.7M390.5,166.97h-2.7M47.5,156.37h2.7M390.5,156.37h-2.7M47.5,145.76h2.7M390.5,145.76h-2.7M47.5,135.16h2.7M390.5,135.16h-2.7M47.5,124.55h3.8M390.5,124.55h-3.8M47.5,113.94h2.7M390.5,113.94h-2.7M47.5,103.34h2.7M390.5,103.34h-2.7M47.5,92.74h2.7M390.5,92.74h-2.7M47.5,82.13h2.7M390.5,82.13h-2.7M47.5,71.53h3.8M390.5,71.53h-3.8M47.5,60.92h2.7M390.5,60.92h-2.7M47.5,50.31h2.7M390.5,50.31h-2.7M47.5,39.71h2.7M390.5,39.71h-2.7M47.5,29.10h2.7M390.5,29.10h-2.7M47.5,18.50h3.8M390.5,18.50h-3.8" fill="none" stroke="#555" stroke-width="0.62"/>
<g font-family="'Liberation Sans', sans-serif" font-size="10.3" fill="#000">
<text x="43.7" y="234.70" text-anchor="end">0</text>
<text x="43.7" y="181.67" text-anchor="end">10</text>
<text x="43.7" y="128.65" text-anchor="end">20</text>
<text x="43.7" y="75.62" text-anchor="end">30</text>
<text x="43.7" y="22.60" text-anchor="end">40</text>
<text x="37.55" y="245.6">10<tspan dx="0.6" dy="-5" font-size="10.5">-</tspan></text>
<text transform="translate(52.85,240.7) scale(0.8,1)" font-size="8.7">3</text>
<text x="123.30" y="245.6">10<tspan dx="0.6" dy="-5" font-size="10.5">-</tspan></text>
<text transform="translate(138.60,240.7) scale(0.8,1)" font-size="8.7">2</text>
<text x="209.05" y="245.6">10<tspan dx="0.6" dy="-5" font-size="10.5">-</tspan></text>
<text transform="translate(224.35,240.7) scale(0.8,1)" font-size="8.7">1</text>
<text x="296.95" y="245.6">10</text>
<text transform="translate(308.80,240.7) scale(0.8,1)" font-size="8.7">0</text>
<text x="382.70" y="245.6">10</text>
<text transform="translate(394.55,240.7) scale(0.8,1)" font-size="8.7">1</text>
</g>
<g font-family="'Liberation Serif', serif" font-size="14.4" fill="#000">
<text x="196.4" y="273.6"><tspan font-style="italic">p</tspan>[GeV]</text>
<text transform="translate(14.50,145.20) rotate(-90) scale(1.0,1)" font-size="14.8" font-style="italic">G</text>
<text transform="translate(14.50,135.30) rotate(-90) scale(1,1)" font-size="17.5">(</text>
<text transform="translate(14.50,128.70) rotate(-90) scale(1.2,1)" font-size="14.4" font-style="italic">p</text>
<text transform="translate(8.30,121.30) rotate(-90) scale(1.15,1)" font-size="9.5">2</text>
<text transform="translate(14.50,114.30) rotate(-90) scale(1,1)" font-size="17.5">)</text>
</g>
</svg>
</body></html>
